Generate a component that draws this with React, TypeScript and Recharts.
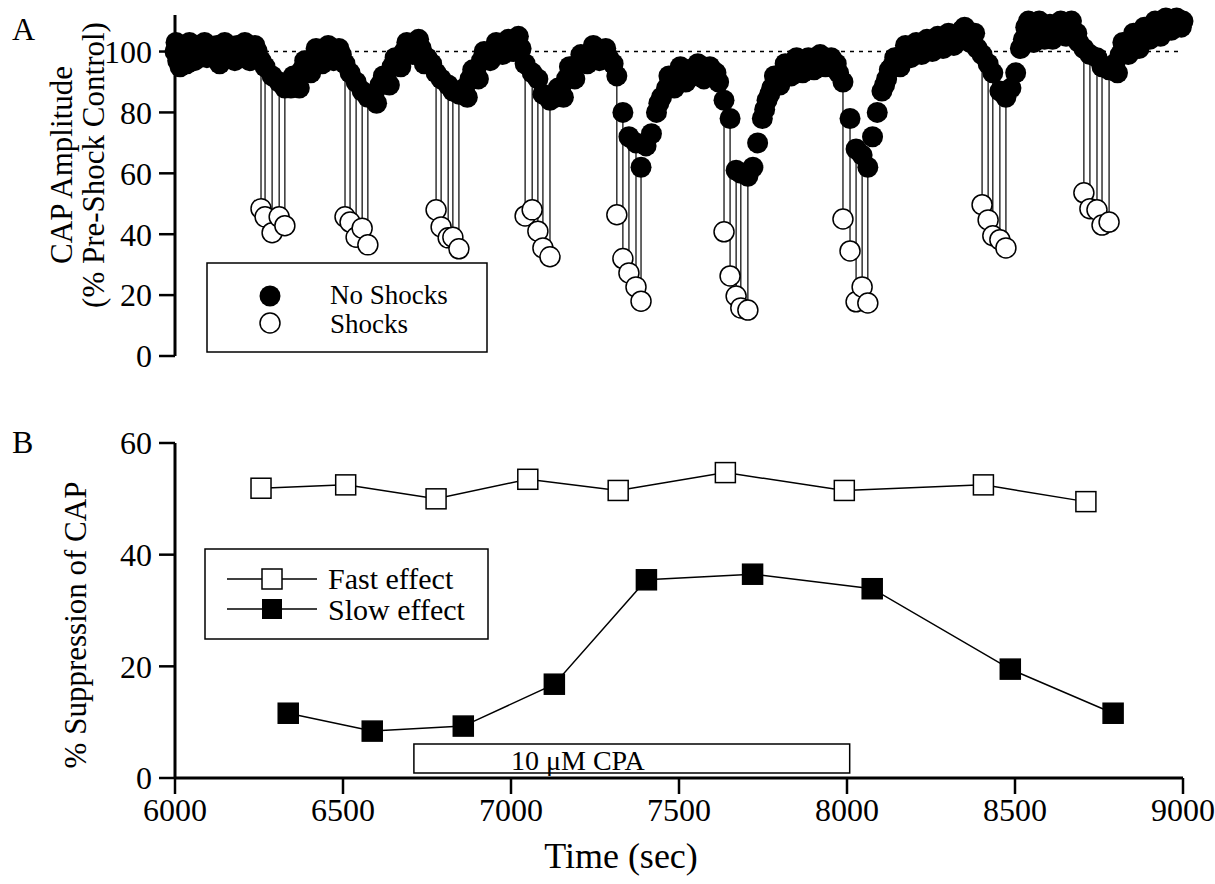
import React from "react";
import { ErrorBar, ReferenceArea, ReferenceLine, Scatter, ScatterChart, XAxis, YAxis } from "recharts";

const FONT = '"Liberation Serif", "Times New Roman", serif';

// panel A: CAP amplitude without shocks, [time (s), % of control]
const noShockPoints: [number, number][] = [
  [6000, 100], [6003, 103], [6008, 97], [6015, 95], [6020, 101], [6028, 99], [6035, 96], [6043, 103],
  [6050, 99], [6058, 97], [6065, 101], [6072, 98], [6080, 100], [6088, 103], [6095, 98], [6102, 101],
  [6110, 101], [6118, 98], [6125, 102], [6133, 96], [6140, 99], [6148, 103], [6155, 98], [6162, 100],
  [6170, 100], [6178, 97], [6185, 102], [6192, 99], [6200, 101], [6208, 103], [6215, 100], [6222, 97],
  [6230, 99], [6238, 102], [6245, 100],
  [6345, 88], [6352, 92], [6360, 91], [6370, 88], [6378, 94], [6386, 97], [6395, 96], [6404, 93],
  [6412, 98], [6420, 101], [6430, 99], [6438, 96], [6448, 100], [6456, 102], [6465, 99], [6472, 97],
  [6480, 98], [6488, 101], [6495, 99],
  [6592, 86], [6600, 83], [6610, 89], [6620, 92], [6628, 92], [6638, 89], [6646, 95], [6655, 98],
  [6664, 98], [6672, 95], [6682, 100], [6690, 103], [6700, 102], [6708, 99], [6716, 103], [6725, 104],
  [6733, 101], [6742, 96], [6750, 98], [6764, 96],
  [6862, 88], [6870, 85], [6878, 91], [6886, 94], [6895, 94], [6903, 91], [6912, 97], [6920, 100],
  [6930, 99], [6938, 97], [6948, 100], [6956, 103], [6966, 101], [6975, 99], [6984, 102], [6992, 104],
  [7000, 103], [7008, 100], [7015, 104], [7022, 105], [7030, 101],
  [7132, 85], [7140, 88], [7148, 88], [7156, 85], [7165, 91], [7174, 95], [7182, 94], [7190, 91],
  [7200, 96], [7208, 99], [7218, 98], [7227, 96], [7236, 99], [7245, 102], [7254, 100], [7263, 97],
  [7272, 99], [7282, 101], [7290, 98], [7304, 96],
  [7402, 69], [7418, 73], [7433, 80], [7440, 83], [7448, 85], [7463, 88], [7470, 92], [7478, 90],
  [7486, 88], [7495, 92], [7504, 95], [7512, 93], [7520, 90], [7530, 94], [7540, 92], [7548, 94],
  [7556, 96], [7565, 93], [7574, 91], [7583, 92], [7592, 95], [7600, 92], [7610, 93], [7618, 90],
  [7720, 62], [7734, 70], [7748, 78], [7755, 81], [7762, 84], [7770, 86], [7776, 88], [7784, 92],
  [7792, 91], [7800, 89], [7808, 93], [7816, 96], [7825, 95], [7834, 92], [7842, 96], [7850, 98],
  [7860, 96], [7868, 93], [7877, 95], [7885, 98], [7894, 96], [7902, 94], [7911, 96], [7920, 99],
  [7928, 97], [7936, 95], [7945, 96], [7953, 98], [7962, 95], [7968, 96], [7975, 93],
  [8076, 72], [8090, 80], [8104, 87], [8112, 89], [8118, 91], [8126, 94], [8134, 95], [8142, 98],
  [8150, 98], [8158, 95], [8166, 99], [8174, 102], [8182, 100], [8190, 98], [8198, 101], [8206, 103],
  [8214, 101], [8222, 99], [8230, 102], [8238, 104], [8246, 102], [8254, 100], [8262, 103], [8270, 105],
  [8278, 102], [8286, 101], [8294, 104], [8302, 106], [8310, 104], [8318, 102], [8326, 105], [8334, 104],
  [8342, 107], [8350, 108], [8358, 106], [8366, 103], [8374, 104], [8380, 106], [8388, 101],
  [8488, 88], [8502, 93], [8516, 101], [8525, 104], [8532, 108], [8540, 110], [8548, 105], [8556, 103],
  [8564, 107], [8572, 110], [8580, 108], [8588, 104], [8596, 106], [8604, 109], [8612, 104], [8620, 106],
  [8628, 108], [8636, 110], [8644, 109], [8652, 105], [8660, 107], [8668, 110], [8676, 105], [8684, 106],
  [8690, 103],
  [8797, 96], [8805, 93], [8813, 99], [8821, 103], [8829, 101], [8837, 99], [8845, 103], [8853, 106],
  [8861, 104], [8869, 101], [8877, 105], [8885, 108], [8893, 106], [8901, 104], [8909, 107], [8917, 110],
  [8925, 107], [8933, 105], [8941, 108], [8949, 111], [8957, 109], [8965, 107], [8973, 109], [8981, 111],
  [8989, 110], [8995, 108], [9000, 110],
];

// shock trials: [time (s), amplitude with shock, amplitude without shock]
const shockPoints: [number, number, number][] = [
  [6256, 48.4, 97], [6268, 45.7, 95], [6289, 40.5, 92], [6310, 45.7, 90], [6327, 42.8, 88],
  [6506, 45.7, 96], [6521, 44, 93], [6539, 39, 90], [6557, 42, 87], [6574, 36.5, 85],
  [6777, 48, 93], [6792, 42.4, 91], [6813, 38.8, 89], [6827, 39, 87], [6845, 35.2, 86],
  [7042, 46, 96], [7063, 48, 93], [7080, 41, 91], [7095, 35.5, 86], [7116, 32.6, 84],
  [7315, 46.4, 92], [7333, 32, 80], [7351, 27.3, 72], [7372, 22.7, 70], [7387, 18, 62],
  [7634, 40.8, 84], [7652, 26.3, 78], [7670, 19.7, 61], [7684, 15.8, 60], [7705, 15.1, 59],
  [7988, 45, 90], [8009, 34.5, 78], [8027, 17.8, 68], [8045, 22.7, 66], [8062, 17.4, 62],
  [8402, 49.7, 99], [8420, 44.7, 96], [8434, 39.5, 93], [8455, 38.2, 87], [8473, 35.5, 85],
  [8705, 53.6, 101], [8723, 48.4, 99], [8744, 48, 98], [8759, 43, 95], [8780, 44, 94],
];

// panel B: % suppression of CAP
const fastEffect: [number, number][] = [
  [6256, 51.9], [6508, 52.5], [6777, 50.0], [7050, 53.5], [7319, 51.5],
  [7638, 54.7], [7992, 51.5], [8406, 52.5], [8711, 49.5],
];
const slowEffect: [number, number][] = [
  [6337, 11.6], [6587, 8.4], [6858, 9.3], [7129, 16.8], [7403, 35.5],
  [7719, 36.5], [8075, 33.9], [8486, 19.5], [8792, 11.6],
];

const cpaStart = 6711;
const cpaEnd = 8008;
const cpaLow = 0.9;
const cpaHigh = 6.1;

const timeTicks = [6000, 6500, 7000, 7500, 8000, 8500, 9000];
const ampTicks = [0, 20, 40, 60, 80, 100];
const suppTicks = [0, 20, 40, 60];

const filledData = [
  ...noShockPoints.map(([t, v]) => ({ t, v })),
  ...shockPoints.map(([t, , top]) => ({ t, v: top })),
].sort((a, b) => a.t - b.t);
const shockData = shockPoints.map(([t, v, top]) => ({ t, v, drop: [0, top - v] }));
const fastData = fastEffect.map(([t, v]) => ({ t, v }));
const slowData = slowEffect.map(([t, v]) => ({ t, v }));

const tickStyle = { fill: "#000", fontSize: 32, fontFamily: FONT };
const axisLine = { stroke: "#000", strokeWidth: 3 };
const tickLine = { stroke: "#000", strokeWidth: 2.5 };

const FilledDot = (p: any) => <circle cx={p.cx} cy={p.cy} r={10.5} fill="#000" />;
const OpenDot = (p: any) => <circle cx={p.cx} cy={p.cy} r={10} fill="#fff" stroke="#000" strokeWidth={1.5} />;
const NoDot = () => <g />;
const OpenSquare = (p: any) => (
  <rect x={p.cx - 10} y={p.cy - 10} width={20} height={20} fill="#fff" stroke="#000" strokeWidth={1.5} />
);
const FilledSquare = (p: any) => (
  <rect x={p.cx - 10} y={p.cy - 10} width={20} height={20} fill="#000" stroke="#000" strokeWidth={1.5} />
);

export default function App() {
  return (
    <div style={{ position: "absolute", left: 0, top: 0, width: 1215, height: 884, background: "#fff", fontFamily: FONT }}>
      <div style={{ position: "absolute", left: 0, top: 0 }}>
        <ScatterChart width={1215} height={400} margin={{ top: 15, right: 32, bottom: 44, left: 0 }}>
          <XAxis type="number" dataKey="t" domain={[6000, 9000]} hide />
          <YAxis
            type="number"
            dataKey="v"
            domain={[0, 112]}
            ticks={ampTicks}
            width={175}
            tick={tickStyle}
            tickSize={16}
            tickMargin={7}
            axisLine={axisLine}
            tickLine={tickLine}
          />
          <ReferenceLine y={100} stroke="#000" strokeWidth={1.5} strokeDasharray="4 5" />
          <Scatter data={shockData} shape={NoDot} isAnimationActive={false}>
            <ErrorBar dataKey="drop" direction="y" width={0} stroke="#000" strokeWidth={1.2} isAnimationActive={false} />
          </Scatter>
          <Scatter data={shockData} shape={OpenDot} isAnimationActive={false} />
          <Scatter data={filledData} shape={FilledDot} isAnimationActive={false} />
        </ScatterChart>
      </div>

      <div style={{ position: "absolute", left: 0, top: 400 }}>
        <ScatterChart width={1215} height={484} margin={{ top: 43, right: 32, bottom: 56, left: 0 }}>
          <XAxis
            type="number"
            dataKey="t"
            domain={[6000, 9000]}
            ticks={timeTicks}
            height={50}
            tick={tickStyle}
            tickSize={16}
            tickMargin={4}
            axisLine={axisLine}
            tickLine={tickLine}
          />
          <YAxis
            type="number"
            dataKey="v"
            domain={[0, 60]}
            ticks={suppTicks}
            width={175}
            tick={tickStyle}
            tickSize={16}
            tickMargin={7}
            axisLine={axisLine}
            tickLine={tickLine}
          />
          <ReferenceArea x1={cpaStart} x2={cpaEnd} y1={cpaLow} y2={cpaHigh} fill="#fff" fillOpacity={1} stroke="#000" strokeWidth={1.5} />
          <Scatter data={fastData} shape={OpenSquare} line={{ stroke: "#000", strokeWidth: 1.5 }} isAnimationActive={false} />
          <Scatter data={slowData} shape={FilledSquare} line={{ stroke: "#000", strokeWidth: 1.5 }} isAnimationActive={false} />
        </ScatterChart>
      </div>

      <svg width={1215} height={884} style={{ position: "absolute", left: 0, top: 0, pointerEvents: "none" }} fontFamily={FONT}>
        <text x={12} y={40} fontSize={32}>A</text>
        <text x={12} y={453} fontSize={32}>B</text>

        <text transform="translate(72,165) rotate(-90)" textAnchor="middle" fontSize={31}>CAP Amplitude</text>
        <text transform="translate(104,165) rotate(-90)" textAnchor="middle" fontSize={31}>(% Pre-Shock Control)</text>
        <text transform="translate(86,625) rotate(-90)" textAnchor="middle" fontSize={31}>% Suppression of CAP</text>
        <text x={621} y={868} textAnchor="middle" fontSize={36}>Time (sec)</text>

        <rect x={207} y={263} width={280} height={89} fill="#fff" stroke="#000" strokeWidth={1.5} />
        <circle cx={270} cy={296} r={10.5} fill="#000" />
        <text x={330} y={304} fontSize={27}>No Shocks</text>
        <circle cx={270} cy={323} r={10} fill="#fff" stroke="#000" strokeWidth={1.5} />
        <text x={330} y={333} fontSize={27}>Shocks</text>

        <rect x={205} y={549} width={283} height={90} fill="#fff" stroke="#000" strokeWidth={1.5} />
        <line x1={227} y1={579} x2={317} y2={579} stroke="#000" strokeWidth={1.5} />
        <rect x={262} y={569} width={20} height={20} fill="#fff" stroke="#000" strokeWidth={1.5} />
        <text x={328} y={589} fontSize={30}>Fast effect</text>
        <line x1={227} y1={609} x2={317} y2={609} stroke="#000" strokeWidth={1.5} />
        <rect x={262} y={599} width={20} height={20} fill="#000" />
        <text x={328} y={620} fontSize={30}>Slow effect</text>

        <text x={511} y={770} fontSize={28}>10 μM CPA</text>
      </svg>
    </div>
  );
}
